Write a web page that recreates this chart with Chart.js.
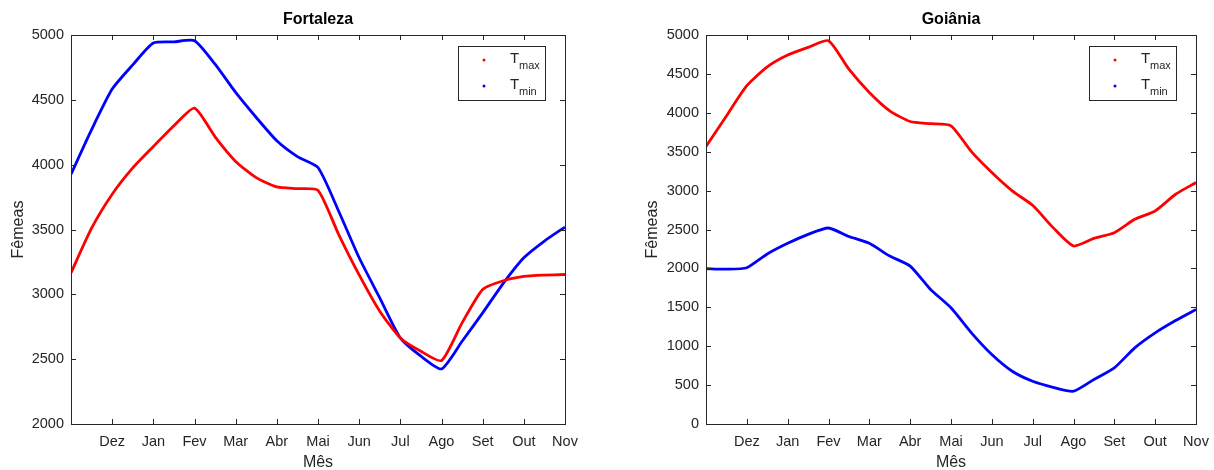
<!DOCTYPE html>
<html>
<head>
<meta charset="utf-8">
<script src="https://cdn.jsdelivr.net/npm/chart.js@4.4.1/dist/chart.umd.min.js"></script>
<style>
  body { margin: 0; background: #fff; }
  .wrap { position: relative; width: 1214px; height: 470px; }
  canvas { position: absolute; top: 0; }
</style>
</head>
<body>
<div class="wrap">
  <canvas id="cFort" width="607" height="470" style="left:0"></canvas>
  <canvas id="cGoi" width="607" height="470" style="left:607px"></canvas>
</div>
<script>
// rótulos do eixo x (0 = início em Nov, sem rótulo)
const meses = ['', 'Dez', 'Jan', 'Fev', 'Mar', 'Abr', 'Mai', 'Jun', 'Jul', 'Ago', 'Set', 'Out', 'Nov'];
const xPos = [0, 0.5, 1, 1.5, 2, 2.5, 3, 3.5, 4, 4.5, 5, 5.5, 6, 6.5, 7, 7.5, 8, 8.5, 9, 9.5, 10, 10.5, 11, 11.5, 12];

const fortTmax = [3166, 3510, 3772, 3975, 4140, 4300, 4436, 4215, 4025, 3900, 3828, 3815, 3802, 3463, 3150, 2870, 2664, 2561, 2489, 2780, 3038, 3105, 3138, 3148, 3153];
const fortTmin = [3926, 4270, 4583, 4770, 4938, 4947, 4956, 4775, 4557, 4364, 4184, 4062, 3978, 3643, 3282, 2973, 2664, 2523, 2425, 2638, 2857, 3085, 3282, 3411, 3519];

const goiTmax = [3567, 3960, 4348, 4590, 4742, 4841, 4927, 4560, 4262, 4026, 3888, 3860, 3833, 3500, 3232, 2996, 2811, 2524, 2288, 2386, 2459, 2631, 2738, 2953, 3103];
const goiTmin = [1996, 1990, 2009, 2185, 2322, 2438, 2519, 2410, 2322, 2159, 2030, 1730, 1494, 1172, 893, 678, 549, 472, 421, 571, 721, 979, 1172, 1330, 1472];

const INK = '#262626';
const FONT = "'Liberation Sans', Arial, sans-serif";

const pts = ys => ys.map((y, i) => ({ x: xPos[i], y }));

// caixa estilo matlab: moldura + ticks para dentro nos 4 lados
const boxPlugin = {
    id: 'boxPlugin',
    afterDraw(chart, args, opts) {
        const { ctx, chartArea: a, scales } = chart;
        ctx.save();
        ctx.strokeStyle = INK; ctx.lineWidth = 1;
        ctx.strokeRect(a.left + 0.5, a.top + 0.5, a.right - a.left, a.bottom - a.top);
        const L = 5;
        ctx.beginPath();
        scales.x.ticks.forEach(t => {
            const px = Math.round(scales.x.getPixelForValue(t.value)) + 0.5;
            ctx.moveTo(px, a.bottom); ctx.lineTo(px, a.bottom - L);
            ctx.moveTo(px, a.top); ctx.lineTo(px, a.top + L);
        });
        scales.y.ticks.forEach(t => {
            const py = Math.round(scales.y.getPixelForValue(t.value)) + 0.5;
            ctx.moveTo(a.left, py); ctx.lineTo(a.left + L, py);
            ctx.moveTo(a.right, py); ctx.lineTo(a.right - L, py);
        });
        ctx.stroke();

        // título
        ctx.fillStyle = '#000';
        ctx.font = `bold 16px ${FONT}`;
        ctx.textAlign = 'center'; ctx.textBaseline = 'middle';
        ctx.fillText(opts.titulo, (a.left + a.right) / 2, 20);

        // legenda com subscrito
        const bw = 87, bh = 54;
        const bx = a.right - 20 - bw, by = a.top + 11;
        ctx.fillStyle = '#fff';
        ctx.fillRect(bx, by, bw, bh);
        ctx.strokeStyle = INK;
        ctx.strokeRect(bx + 0.5, by + 0.5, bw, bh);
        [['#ff0000', 'max', 14], ['#0000ff', 'min', 40]].forEach(([cor, sub, dy]) => {
            ctx.fillStyle = cor;
            ctx.beginPath(); ctx.arc(bx + 26, by + dy, 1.5, 0, Math.PI * 2); ctx.fill();
            ctx.fillStyle = INK;
            ctx.textAlign = 'left'; ctx.textBaseline = 'alphabetic';
            ctx.font = `15px ${FONT}`;
            ctx.fillText('T', bx + 52, by + dy + 3);
            ctx.font = `11px ${FONT}`;
            ctx.fillText(sub, bx + 61, by + dy + 9);
        });
        ctx.restore();
    }
};

function grafico(id, titulo, tmax, tmin, yMin, padLeft, padRight, yW) {
    return new Chart(document.getElementById(id), {
        type: 'line',
        data: {
            datasets: [
                { label: 'Tmax', data: pts(tmax), borderColor: '#ff0000', borderWidth: 2.8, pointRadius: 0, tension: 0.2 },
                { label: 'Tmin', data: pts(tmin), borderColor: '#0000ff', borderWidth: 2.8, pointRadius: 0, tension: 0.2 }
            ]
        },
        options: {
            responsive: false,
            animation: false,
            devicePixelRatio: 1,
            layout: { padding: { left: padLeft, right: padRight, top: 35, bottom: 0 } },
            plugins: { legend: { display: false }, tooltip: { enabled: false }, boxPlugin: { titulo } },
            scales: {
                x: {
                    type: 'linear', min: 0, max: 12,
                    grid: { display: false, drawTicks: false }, border: { display: false },
                    ticks: { stepSize: 1, autoSkip: false, maxRotation: 0, padding: 9, color: INK,
                             font: { family: FONT, size: 14.5 }, callback: v => meses[v] },
                    title: { display: true, text: 'Mês', color: INK, font: { family: FONT, size: 16, lineHeight: 1 }, padding: { top: 4, bottom: -1 } },
                    afterFit: s => { s.height = 46; s.paddingLeft = 0; s.paddingRight = 0; }
                },
                y: {
                    min: yMin, max: 5000,
                    grid: { display: false, drawTicks: false }, border: { display: false },
                    ticks: { stepSize: 500, padding: 7, color: INK, font: { family: FONT, size: 14.5 },
                             callback: v => String(v) },
                    title: { display: true, text: 'Fêmeas', color: INK, font: { family: FONT, size: 16 }, padding: { top: 0, bottom: 0 } },
                    afterFit: s => { s.width = yW; s.paddingTop = 0; s.paddingBottom = 0; }
                }
            }
        },
        plugins: [boxPlugin]
    });
}

grafico('cFort', 'Fortaleza', fortTmax, fortTmin, 2000, 9, 42, 62);
grafico('cGoi', 'Goiânia', goiTmax, goiTmin, 0, 36, 18, 63);
</script>
</body>
</html>
